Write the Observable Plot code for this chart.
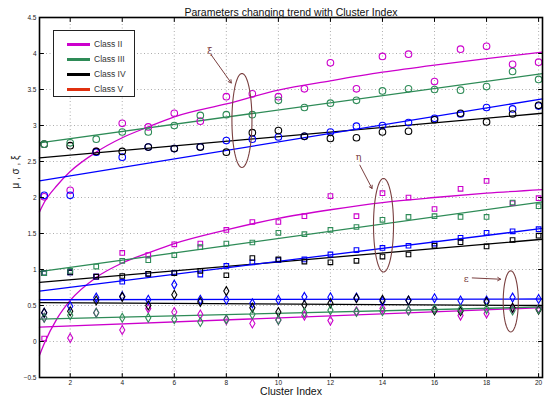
<!DOCTYPE html>
<html><head><meta charset="utf-8">
<script src="https://cdn.jsdelivr.net/npm/d3@7"></script>
<script src="https://cdn.jsdelivr.net/npm/@observablehq/plot@0.6"></script>
<style>
body{margin:0;background:#fff;}
#wrap{position:relative;width:551px;height:405px;font-family:"Liberation Sans",Arial,sans-serif;}
#legend{position:absolute;left:53px;top:30px;width:82px;height:67px;border:1px solid #222;background:#fff;box-sizing:border-box;}
.sw{position:absolute;left:13px;width:23px;height:3.6px;}
.lt{position:absolute;left:40px;font-size:8.5px;color:#333;white-space:nowrap;line-height:10px;}
</style></head><body><div id="wrap"></div>
<script>
// ---------- data ----------
const clusterIndex = [1,2,3,4,5,6,7,8,9,10,11,12,13,14,15,16,17,18,19,20];
const classNames = ["Class II","Class III","Class IV","Class V"];
const classColors = ["#cc00cc","#2e8b57","#000000","#0000ff"];
const legendColors = ["#cc00cc","#2e8b57","#000000","#e0300f"];

// xi (circles)
const xiII  = [2.01,2.10,2.64,3.03,2.98,3.17,3.06,3.40,3.44,3.40,3.51,3.87,3.51,3.96,3.99,3.61,4.06,4.10,3.85,3.88];
const xiIII = [2.74,2.76,2.81,2.91,2.91,3.00,3.14,3.15,3.15,3.35,3.25,3.31,3.35,3.48,3.51,3.50,3.49,3.54,3.75,3.64];
const xiIV  = [2.74,2.72,2.64,2.64,2.70,2.68,2.70,2.63,2.90,2.93,2.85,2.82,2.83,2.91,2.92,3.08,3.17,3.05,3.16,3.28];
const xiV   = [2.03,2.03,2.63,2.56,2.70,2.68,2.70,2.79,2.81,2.84,2.85,2.91,2.99,3.00,3.04,3.10,3.16,3.25,3.23,3.27];
// eta (squares)
const etaII  = [0.04,0.97,0.90,1.23,1.20,1.35,1.36,1.55,1.66,1.66,1.74,2.02,1.74,2.06,2.00,1.84,2.12,2.23,1.92,1.99];
const etaIII = [0.95,0.98,1.04,1.12,1.13,1.20,1.31,1.36,1.375,1.51,1.49,1.55,1.59,1.69,1.73,1.74,1.73,1.73,1.93,1.88];
const etaIV  = [0.95,0.96,0.90,0.91,0.94,0.95,0.98,0.92,1.16,1.14,1.11,1.10,1.12,1.18,1.21,1.33,1.38,1.32,1.41,1.47];
const etaV   = [0.95,0.96,0.90,0.83,0.94,0.95,0.93,1.05,1.10,1.13,1.14,1.21,1.27,1.30,1.33,1.36,1.44,1.51,1.53,1.56];
// epsilon (diamonds)
const epsII  = [0.33,0.05,0.40,0.16,0.46,0.41,0.375,0.30,0.25,0.30,0.36,0.29,0.42,0.46,0.43,0.44,0.36,0.39,0.46,0.46];
const epsIII = [0.33,0.365,0.40,0.33,0.33,0.31,0.27,0.31,0.375,0.30,0.40,0.435,0.41,0.42,0.43,0.45,0.445,0.45,0.43,0.45];
const epsIV  = [0.40,0.42,0.57,0.62,0.50,0.65,0.55,0.70,0.47,0.41,0.51,0.53,0.60,0.58,0.57,0.43,0.42,0.55,0.47,0.44];
const epsV   = [0.40,0.49,0.61,0.63,0.58,0.79,0.58,0.58,0.53,0.58,0.62,0.615,0.61,0.56,0.57,0.60,0.57,0.57,0.61,0.59];

// fitted trend lines
const fitEnds = [0.82, 20.15];
const xiFitIII = [2.76, 3.72], xiFitIV = [2.55, 3.17], xiFitV = [2.23, 3.37];
const etaFitIII = [0.97, 1.94], etaFitIV = [0.82, 1.42], etaFitV = [0.70, 1.57];
const epsFitII = [0.20, 0.47], epsFitIII = [0.31, 0.48], epsFitIV = [0.54, 0.50], epsFitV = [0.58, 0.59];
const curveX   = [0.82,1,1.5,2,3,4,5,6,8,10,12,14,16,18,20.15];
const xiFitII  = [1.80,1.93,2.17,2.36,2.63,2.83,2.98,3.12,3.30,3.49,3.62,3.74,3.84,3.93,4.02];
const etaFitII = [-0.19,-0.03,0.32,0.57,0.89,1.09,1.23,1.36,1.55,1.71,1.83,1.93,2.00,2.06,2.11];

// axes
const xTicks = [2,4,6,8,10,12,14,16,18,20];
const yTicks = [-0.5,0,0.5,1,1.5,2,2.5,3,3.5,4,4.5];
const yTickLabels = ["\u22120.5","0","0.5","1","1.5","2","2.5","3","3.5","4","4.5"];

// annotations
const annoLabel = ["\u03be","\u03b7","\u03b5"];
const annoCx = [8.6, 14.04, 18.93];
const annoCy = [3.07, 1.615, 0.557];
const annoRx = [0.385, 0.385, 0.29];
const annoRy = [0.653, 0.65, 0.424];
const arrowX1 = [7.42, 13.13, 17.45];
const arrowY1 = [3.98, 2.45, 0.883];
const arrowX2 = [8.19, 13.60, 18.54];
const arrowY2 = [3.59, 2.125, 0.865];
const labelX = [7.37, 13.08, 17.22];
const labelY = [4.04, 2.57, 0.872];
const annoColor = "#7a4040";

// ---------- build tables ----------
const order = [0,3,2,1]; // draw order: II, V, IV, III
function pts(arrs){
  const out=[];
  order.forEach(c=>arrs[c].forEach((v,i)=>out.push({x:clusterIndex[i], y:v, c})));
  return out;
}
const xiPts  = pts([xiII,xiIII,xiIV,xiV]);
const etaPts = pts([etaII,etaIII,etaIV,etaV]);
const epsPts = pts([epsII,epsIII,epsIV,epsV]);

const fitLines = [];
function addLine(xs, ys, c, id){ xs.forEach((x,i)=>fitLines.push({x, y:ys[i], c, id})); }
addLine(curveX, xiFitII, 0, "xi0"); addLine(fitEnds, xiFitIII, 1, "xi1"); addLine(fitEnds, xiFitIV, 2, "xi2"); addLine(fitEnds, xiFitV, 3, "xi3");
addLine(curveX, etaFitII, 0, "eta0"); addLine(fitEnds, etaFitIII, 1, "eta1"); addLine(fitEnds, etaFitIV, 2, "eta2"); addLine(fitEnds, etaFitV, 3, "eta3");
addLine(fitEnds, epsFitII, 0, "eps0"); addLine(fitEnds, epsFitIII, 1, "eps1"); addLine(fitEnds, epsFitIV, 2, "eps2"); addLine(fitEnds, epsFitV, 3, "eps3");

const ell = [];
annoCx.forEach((cx,k)=>{ for(let t=0;t<=72;t++){ const a=t/72*2*Math.PI; ell.push({k, x:cx+annoRx[k]*Math.cos(a), y:annoCy[k]+annoRy[k]*Math.sin(a)}); } });
const annoIdx = [0,1,2];

const tickShape = {draw(ctx,l){ctx.moveTo(0,0);ctx.lineTo(0,-l);}};
const col = d => classColors[d.c];

const plot = Plot.plot({
  width: 551, height: 405,
  marginLeft: 39, marginRight: 9, marginTop: 17, marginBottom: 28,
  x: {domain: [0.82, 20.15], axis: null},
  y: {domain: [-0.5, 4.5], axis: null},
  style: {fontFamily: "'Liberation Sans', Arial, sans-serif", background: "#fff"},
  marks: [
    Plot.gridX(xTicks, {stroke: "#999", strokeOpacity: 0.8, strokeDasharray: "1,2.5"}),
    Plot.gridY(yTicks.slice(1,-1), {stroke: "#999", strokeOpacity: 0.8, strokeDasharray: "1,2.5"}),
    Plot.line(fitLines, {x: "x", y: "y", z: "id", stroke: col, strokeWidth: 1.3, curve: "monotone-x"}),
    Plot.dot(xiPts, {x: "x", y: "y", symbol: "circle", r: 3.3, stroke: col, strokeWidth: 1.1, fill: "none"}),
    Plot.dot(etaPts, {x: "x", y: "y", symbol: "square", r: 2.6, stroke: col, strokeWidth: 1.1, fill: "none"}),
    Plot.dot(epsPts, {x: "x", y: "y", symbol: "diamond", r: 2.7, stroke: col, strokeWidth: 1.1, fill: "none"}),
    Plot.line(ell, {x: "x", y: "y", z: "k", stroke: annoColor, strokeWidth: 1.1}),
    Plot.arrow(annoIdx, {x1: i=>arrowX1[i], y1: i=>arrowY1[i], x2: i=>arrowX2[i], y2: i=>arrowY2[i], stroke: annoColor, strokeWidth: 1, headLength: 5}),
    Plot.text(annoIdx, {x: i=>labelX[i], y: i=>labelY[i], text: i=>annoLabel[i], fill: annoColor, fontSize: 9.5, fontFamily: "'DejaVu Serif', serif"}),
    Plot.frame({stroke: "#000", strokeWidth: 1.6}),
    Plot.vector(xTicks, {x: d=>d, frameAnchor: "bottom", length: 4, rotate: 0, anchor: "start", shape: tickShape, stroke: "#000", strokeWidth: 1}),
    Plot.vector(xTicks, {x: d=>d, frameAnchor: "top", length: 4, rotate: 180, anchor: "start", shape: tickShape, stroke: "#000", strokeWidth: 1}),
    Plot.vector(yTicks, {y: d=>d, frameAnchor: "left", length: 4, rotate: 90, anchor: "start", shape: tickShape, stroke: "#000", strokeWidth: 1}),
    Plot.vector(yTicks, {y: d=>d, frameAnchor: "right", length: 4, rotate: -90, anchor: "start", shape: tickShape, stroke: "#000", strokeWidth: 1}),
    Plot.text(xTicks, {x: d=>d, frameAnchor: "bottom", dy: 7, text: d=>String(d), fontSize: 6.5, fill: "#222"}),
    Plot.text(yTicks, {y: d=>d, frameAnchor: "left", dx: -3, textAnchor: "end", text: (d,i)=>yTickLabels[i], fontSize: 6.5, fill: "#222"}),
    Plot.text(["Parameters changing trend with Cluster Index"], {frameAnchor: "top", dy: -9, fontSize: 10.5, fill: "#111"}),
    Plot.text(["Cluster Index"], {frameAnchor: "bottom", dy: 17, fontSize: 10.5, fill: "#111"}),
    Plot.text(["\u03bc , \u03c3 , \u03be"], {frameAnchor: "left", dx: -24, dy: -9, rotate: -90, fontSize: 10, fill: "#111"})
  ]
});

const wrap = document.getElementById("wrap");
wrap.appendChild(plot);
const lg = document.createElement("div");
lg.id = "legend";
classNames.forEach((n,i)=>{
  const top = 13.3 + i*15;
  const sw = document.createElement("div");
  sw.className = "sw"; sw.style.top = (top-1.8)+"px"; sw.style.background = legendColors[i];
  const t = document.createElement("div");
  t.className = "lt"; t.style.top = (top-5)+"px"; t.textContent = n;
  lg.appendChild(sw); lg.appendChild(t);
});
wrap.appendChild(lg);
</script></body></html>
